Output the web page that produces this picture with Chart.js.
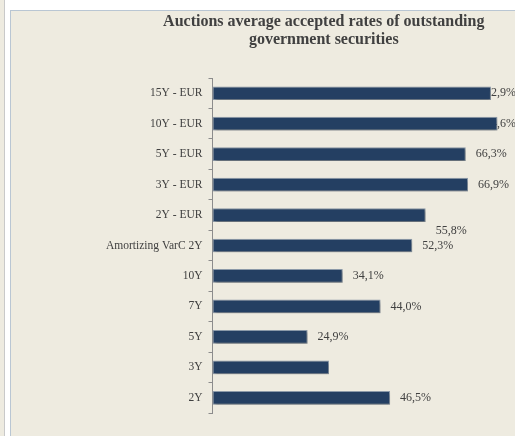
<!DOCTYPE html>
<html>
<head>
<meta charset="utf-8">
<script src="https://cdn.jsdelivr.net/npm/chart.js@4.4.1/dist/chart.umd.min.js"></script>
<style>
  html, body { margin: 0; padding: 0; width: 515px; height: 436px; overflow: hidden; background: #ffffff; }
  #strip { position: absolute; left: 0; top: 0; width: 4px; height: 436px; background: #eeebe0; border-right: 1px solid #c9c9c9; }
  #frame { position: absolute; left: 10px; top: 10px; width: 505px; height: 426px; background: #eeebe0;
           border-left: 1px solid #b9c6d3; border-top: 1px solid #b9c6d3; box-sizing: border-box; }
  #wrap { position: absolute; left: 11px; top: 11px; width: 504px; height: 425px; }
</style>
</head>
<body>
<div id="strip"></div>
<div id="frame"></div>
<div id="wrap"><canvas id="c" width="504" height="425"></canvas></div>
<script>
const categories = ["15Y - EUR", "10Y - EUR", "5Y - EUR", "3Y - EUR", "2Y - EUR",
                    "Amortizing VarC 2Y", "10Y", "7Y", "5Y", "3Y", "2Y"];
const values = [72.9, 74.6, 66.3, 66.9, 55.8, 52.3, 34.1, 44.0, 24.9, 30.5, 46.5];
const dataLabels = ["72,9%", "74,6%", "66,3%", "66,9%", "55,8%", "52,3%",
                    "34,1%", "44,0%", "24,9%", null, "46,5%"];
const titleLines = ["Auctions average accepted rates of outstanding", "government securities"];

const textColor = "#404040";
const serif = "'Liberation Serif', 'Times New Roman', serif";
const labelNudge = { 4: 16 };

const barDecor = {
  id: "barDecor",
  beforeDatasetsDraw(chart) {
    const ctx = chart.ctx;
    const meta = chart.getDatasetMeta(0);
    ctx.save();
    ctx.font = "12px " + serif;
    ctx.fillStyle = textColor;
    ctx.textBaseline = "middle";
    ctx.textAlign = "left";
    meta.data.forEach((bar, i) => {
      const txt = dataLabels[i];
      if (!txt) return;
      const w = ctx.measureText(txt).width;
      const x = Math.min(bar.x + 10, chart.width - w + 1);
      ctx.fillText(txt, x, bar.y + (labelNudge[i] || 0));
    });
    ctx.restore();
    ctx.save();
    ctx.shadowColor = "rgba(0,0,0,0.35)";
    ctx.shadowOffsetX = 1;
    ctx.shadowOffsetY = 2;
    ctx.shadowBlur = 3;
  },
  afterDatasetsDraw(chart) {
    chart.ctx.restore();
  },
  afterDraw(chart) {
    const ctx = chart.ctx;
    const a = chart.chartArea;
    const cx = (a.left + a.right) / 2;
    ctx.save();
    ctx.font = "bold 16px " + serif;
    ctx.fillStyle = textColor;
    ctx.textAlign = "center";
    ctx.textBaseline = "middle";
    titleLines.forEach((line, i) => ctx.fillText(line, cx, 11 + i * 18));
    ctx.restore();
  }
};

new Chart(document.getElementById("c"), {
  type: "bar",
  data: {
    labels: categories,
    datasets: [{
      data: values,
      backgroundColor: "#243f62",
      borderColor: "#8e9cab",
      borderWidth: 1,
      borderSkipped: false,
      categoryPercentage: 1,
      barPercentage: 0.45,
      clip: false
    }]
  },
  options: {
    indexAxis: "y",
    responsive: false,
    animation: false,
    devicePixelRatio: 1,
    layout: { padding: { left: 0, right: 80, top: 67, bottom: 23 } },
    plugins: {
      legend: { display: false },
      tooltip: { enabled: false },
      title: { display: false }
    },
    scales: {
      x: { display: false, min: 0, max: 58.25 },
      y: {
        afterFit(scale) { scale.width = 201.5; },
        grid: { display: true, drawOnChartArea: false, drawTicks: true, tickLength: 4, color: "#8c8c8c", offset: true },
        border: { display: true, color: "#8c8c8c", width: 1 },
        ticks: { color: textColor, font: { family: serif, size: 11.5 }, padding: 6 }
      }
    }
  },
  plugins: [barDecor]
});
</script>
</body>
</html>
